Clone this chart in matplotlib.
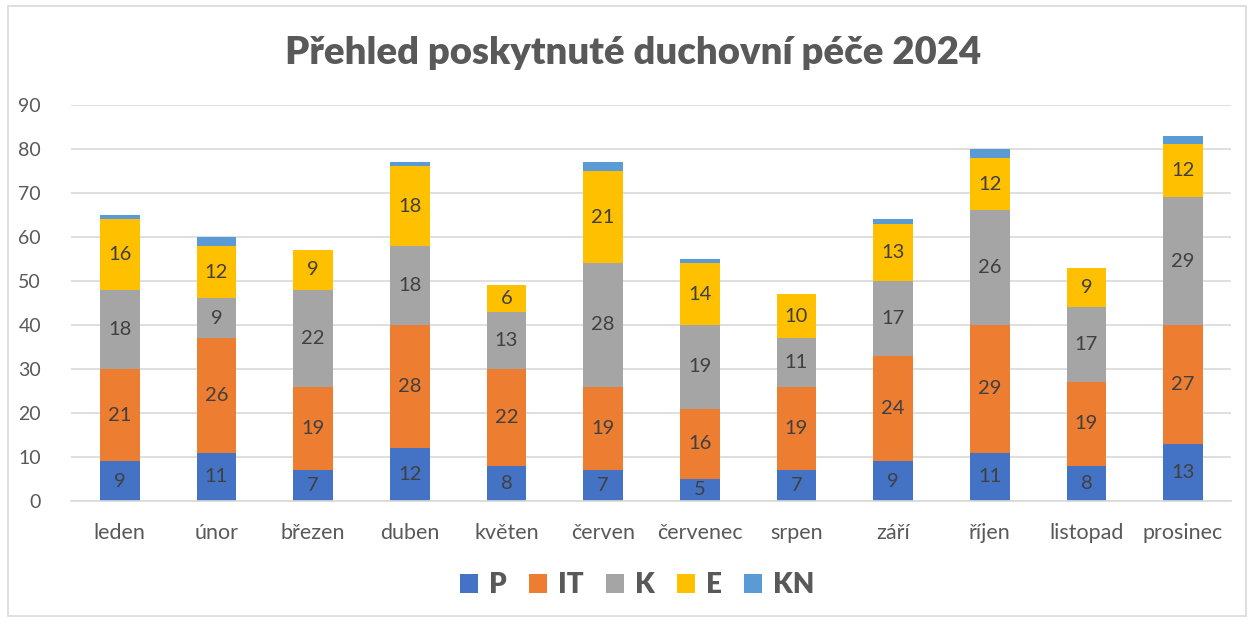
from matplotlib import pyplot as plt
from matplotlib.patches import Rectangle
import numpy as np

plt.rcParams['font.family'] = ['Lato', 'DejaVu Sans']

months = ['leden', 'únor', 'březen', 'duben', 'květen', 'červen',
          'červenec', 'srpen', 'září', 'říjen', 'listopad', 'prosinec']
p_vals = [9, 11, 7, 12, 8, 7, 5, 7, 9, 11, 8, 13]
it_vals = [21, 26, 19, 28, 22, 19, 16, 19, 24, 29, 19, 27]
k_vals = [18, 9, 22, 18, 13, 28, 19, 11, 17, 26, 17, 29]
e_vals = [16, 12, 9, 18, 6, 21, 14, 10, 13, 12, 9, 12]
kn_vals = [1, 2, 0, 1, 0, 2, 1, 0, 1, 2, 0, 2]

series = [('P', p_vals, '#4472C4', True),
          ('IT', it_vals, '#ED7D31', True),
          ('K', k_vals, '#A5A5A5', True),
          ('E', e_vals, '#FFC000', True),
          ('KN', kn_vals, '#5B9BD5', False)]

fig = plt.figure(figsize=(12.54, 6.2), dpi=100)
ax = fig.add_axes([0.057, 0.192, 0.925, 0.639])

x = np.arange(len(months))
bottom = np.zeros(len(months))
for name, vals, color, show in series:
    vals = np.array(vals)
    ax.bar(x, vals, 0.41, bottom=bottom, color=color, label=name, zorder=2)
    if show:
        for xi, b, v in zip(x, bottom, vals):
            if v > 0:
                ax.text(xi, b + v / 2, str(v), ha='center', va='center',
                        fontsize=14.5, color='#404040', zorder=3)
    bottom += vals

ax.set_ylim(0, 90)
ax.set_xlim(-0.5, len(months) - 0.5)
ax.set_yticks(range(0, 91, 10))
ax.set_xticks(x)
ax.set_xticklabels(months)
ax.tick_params(axis='both', length=0, labelsize=14, labelcolor='#595959')
ax.tick_params(axis='x', labelsize=15.5, pad=16)
ax.tick_params(axis='y', pad=22)
ax.grid(axis='y', color='#D9D9D9', linewidth=1.2, zorder=0)
for s in ['top', 'right', 'left']:
    ax.spines[s].set_visible(False)
ax.spines['bottom'].set_color('#D9D9D9')
ax.spines['bottom'].set_linewidth(1.2)

fig.text(0.505, 0.915, 'Přehled poskytnuté duchovní péče 2024', ha='center', va='center',
         fontsize=27.5, fontweight='heavy', color='#595959')

leg = fig.legend(loc='center', bbox_to_anchor=(0.508, 0.056), ncol=5, frameon=False,
                 handlelength=0.65, handleheight=0.65, handletextpad=0.4, columnspacing=0.8,
                 prop={'size': 20, 'weight': 'heavy'})
for t in leg.get_texts():
    t.set_color('#595959')

fig.patches.append(Rectangle((0.006, 0.006), 0.988, 0.985, transform=fig.transFigure,
                             fill=False, edgecolor='#D9D9D9', linewidth=1.2))

plt.savefig('out.png', dpi=100)
